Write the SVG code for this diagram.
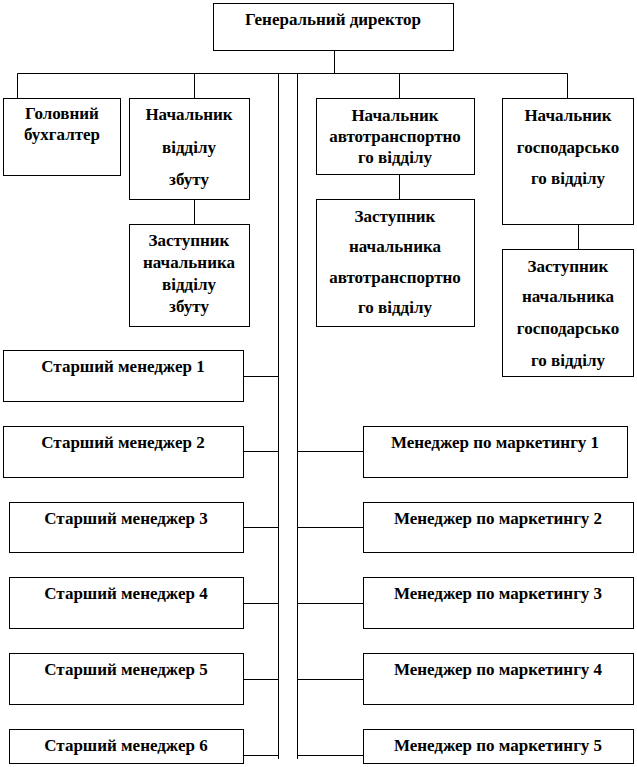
<svg xmlns="http://www.w3.org/2000/svg" width="637" height="767" viewBox="0 0 637 767">
<style>
rect{fill:#fff;stroke:#000;stroke-width:1}
path{fill:none;stroke:#000;stroke-width:1}
text{font-family:"Liberation Serif","Times New Roman",serif;font-weight:bold;font-size:17px;text-anchor:middle;fill:#000}
</style>
<rect x="0" y="0" width="637" height="767" style="stroke:none"/>
<g id="connectors">
<path d="M334.5 50.5V73.5M17.5 98.5V73.5H567.5V98.5M194.5 73.5V98.5M399.5 73.5V98.5M278.5 73.5V759M297.5 73.5V759M194.5 199.5V224.5M399.5 174.5V199.5M578.5 224.5V249.5"/>
<path d="M243.5 376.5H278.5M243.5 451.5H278.5M243.5 527.5H278.5M243.5 603.5H278.5M243.5 679.5H278.5M243.5 755.5H278.5"/>
<path d="M297.5 451.5H363.5M297.5 527.5H363.5M297.5 603.5H363.5M297.5 679.5H363.5M297.5 755.5H363.5"/>
</g>
<g id="director"><rect x="213.5" y="3.5" width="240" height="47"/><text x="333" y="25">Генеральний директор</text></g>
<g id="buh"><rect x="3.5" y="98.5" width="117" height="77"/><text x="62" y="119">Головний</text><text x="62" y="140">бухгалтер</text></g>
<g id="nach-zbut"><rect x="129.5" y="98.5" width="120" height="101"/><text x="189" y="120">Начальник</text><text x="189" y="153">відділу</text><text x="189" y="185">збуту</text></g>
<g id="zast-zbut"><rect x="129.5" y="224.5" width="120" height="102"/><text x="189" y="246">Заступник</text><text x="189" y="268">начальника</text><text x="189" y="290">відділу</text><text x="189" y="312">збуту</text></g>
<g id="nach-avto"><rect x="316.5" y="98.5" width="158" height="76"/><text x="395" y="121">Начальник</text><text x="395" y="142">автотранспортно</text><text x="395" y="163">го відділу</text></g>
<g id="zast-avto"><rect x="316.5" y="199.5" width="158" height="127"/><text x="395" y="222">Заступник</text><text x="395" y="252">начальника</text><text x="395" y="283">автотранспортно</text><text x="395" y="313">го відділу</text></g>
<g id="nach-gosp"><rect x="502.5" y="98.5" width="131" height="126"/><text x="568" y="121">Начальник</text><text x="568" y="153">господарсько</text><text x="568" y="184">го відділу</text></g>
<g id="zast-gosp"><rect x="502.5" y="249.5" width="131" height="127"/><text x="568" y="272">Заступник</text><text x="568" y="302">начальника</text><text x="568" y="334">господарсько</text><text x="568" y="366">го відділу</text></g>
<g id="sm1"><rect x="3.5" y="350.5" width="240" height="51"/><text x="123" y="372">Старший менеджер 1</text></g>
<g id="sm2"><rect x="3.5" y="426.5" width="240" height="51"/><text x="123" y="448">Старший менеджер 2</text></g>
<g id="sm3"><rect x="9.5" y="502.5" width="234" height="50"/><text x="126" y="524">Старший менеджер 3</text></g>
<g id="sm4"><rect x="9.5" y="577.5" width="234" height="51"/><text x="126" y="599">Старший менеджер 4</text></g>
<g id="sm5"><rect x="9.5" y="653.5" width="234" height="51"/><text x="126" y="675">Старший менеджер 5</text></g>
<g id="sm6"><rect x="9.5" y="729.5" width="234" height="34"/><text x="126" y="751">Старший менеджер 6</text></g>
<g id="mm1"><rect x="363.5" y="426.5" width="264" height="51"/><text x="495" y="448">Менеджер по маркетингу 1</text></g>
<g id="mm2"><rect x="363.5" y="502.5" width="270" height="50"/><text x="498" y="524">Менеджер по маркетингу 2</text></g>
<g id="mm3"><rect x="363.5" y="577.5" width="270" height="51"/><text x="498" y="599">Менеджер по маркетингу 3</text></g>
<g id="mm4"><rect x="363.5" y="653.5" width="270" height="51"/><text x="498" y="675">Менеджер по маркетингу 4</text></g>
<g id="mm5"><rect x="363.5" y="729.5" width="270" height="34"/><text x="498" y="751">Менеджер по маркетингу 5</text></g>
</svg>
